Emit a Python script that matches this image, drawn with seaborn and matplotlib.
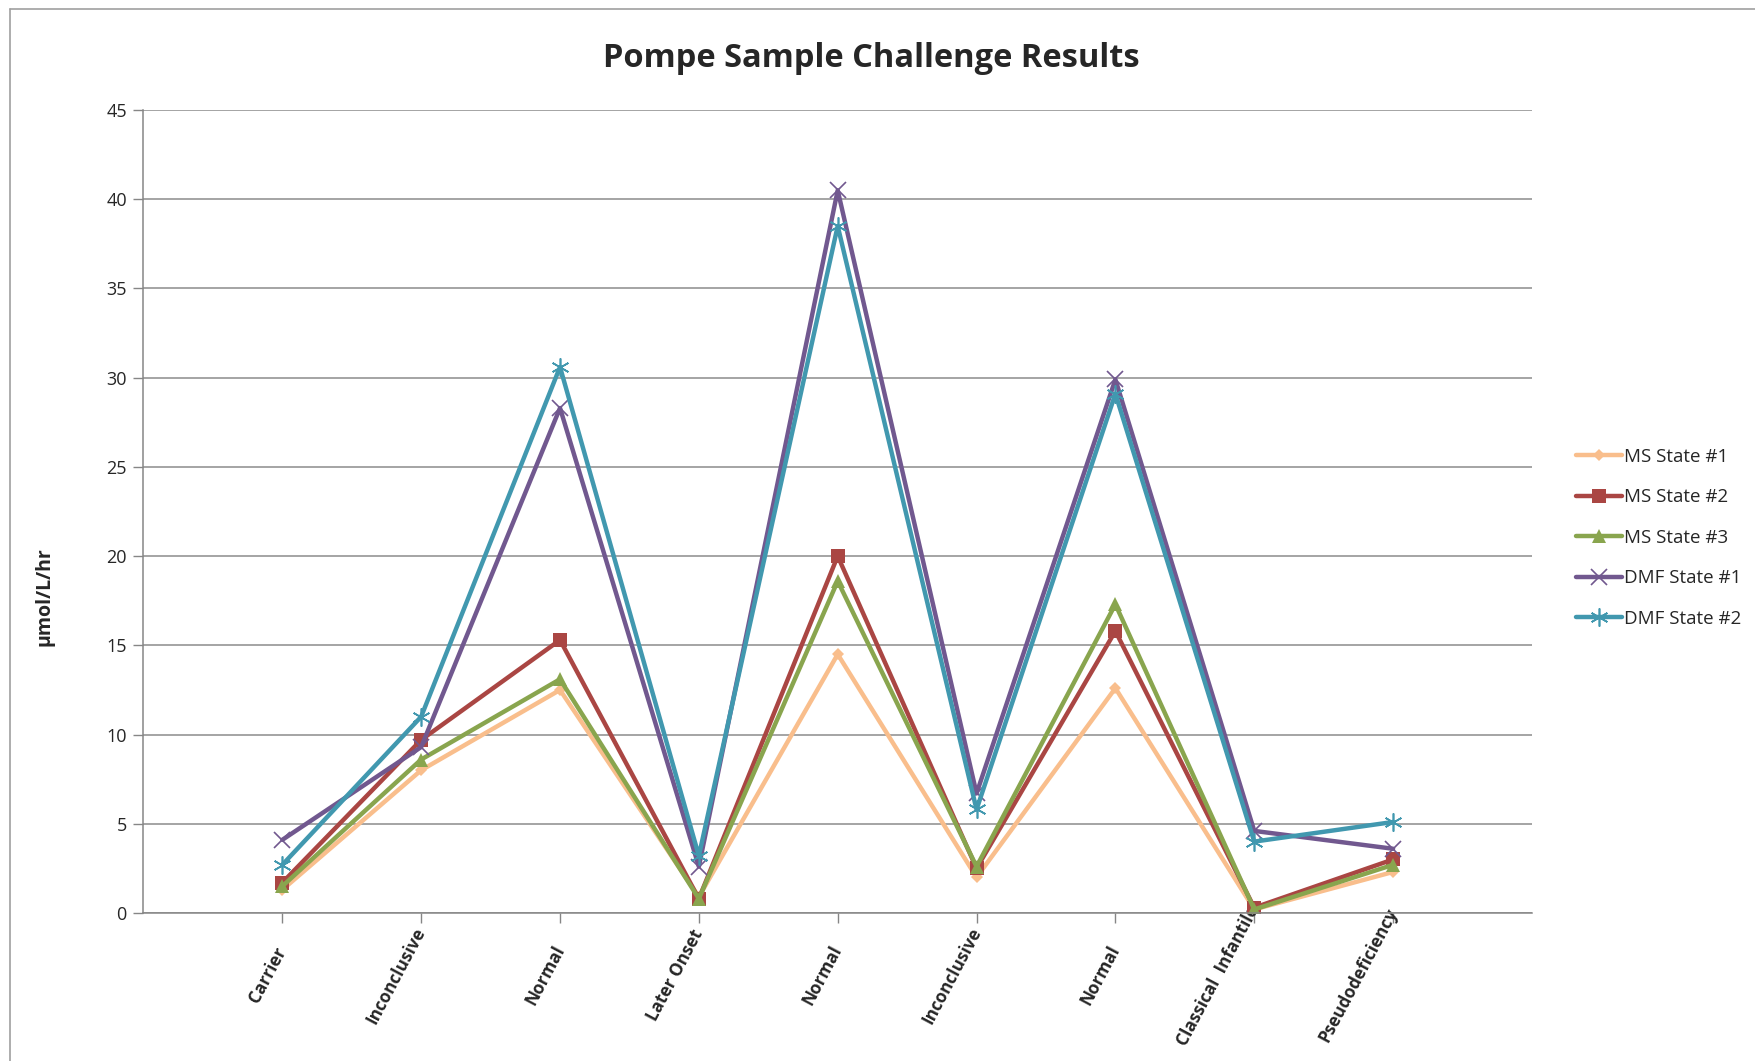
import numpy as np
import pandas as pd
import seaborn as sns
import matplotlib.pyplot as plt
from matplotlib.lines import Line2D
from matplotlib.transforms import ScaledTranslation

# Category labels along the x axis (in sample order)
categories = ["Carrier", "Inconclusive", "Normal", "Later Onset", "Normal",
              "Inconclusive", "Normal", "Classical  Infantile", "Pseudodeficiency"]

# Series values (µmol/L/hr)
ms_state_1 = [1.3, 8.0, 12.5, 0.9, 14.5, 2.0, 12.6, 0.2, 2.3]
ms_state_2 = [1.7, 9.7, 15.3, 0.8, 20.0, 2.5, 15.8, 0.3, 3.0]
ms_state_3 = [1.5, 8.6, 13.1, 0.8, 18.6, 2.6, 17.3, 0.2, 2.7]
dmf_state_1 = [4.1, 9.3, 28.3, 2.6, 40.5, 6.7, 29.9, 4.6, 3.6]
dmf_state_2 = [2.7, 11.0, 30.6, 3.2, 38.5, 5.8, 29.1, 4.0, 5.1]

series_names = ["MS State #1", "MS State #2", "MS State #3", "DMF State #1", "DMF State #2"]
series_values = [ms_state_1, ms_state_2, ms_state_3, dmf_state_1, dmf_state_2]

colors = ["#F9BE8C", "#AA4643", "#89A54E", "#71588F", "#4198AF"]
markers = ["D", "s", "^", "x", (6, 2, 0)]
marker_sizes = [6, 10, 10, 12, 13]

# long-format table for seaborn
pos = np.arange(len(categories))
df = pd.DataFrame({
    "pos": np.tile(pos, len(series_names)),
    "value": np.concatenate(series_values),
    "series": np.repeat(series_names, len(categories)),
})

sns.set_theme(style="white")
plt.rcParams["font.family"] = ["Open Sans", "DejaVu Sans"]

fig = plt.figure(figsize=(17.56, 10.61), dpi=100)
ax = fig.add_axes([0.0817, 0.1395, 0.7907, 0.7568])

handles = []
for name, col, mk, ms in zip(series_names, colors, markers, marker_sizes):
    sub = df[df["series"] == name]
    thin = mk in ("x",) or isinstance(mk, tuple)
    sns.lineplot(data=sub, x="pos", y="value", ax=ax, color=col, linewidth=3.2,
                 marker=mk, markersize=ms, markeredgewidth=1.2 if thin else 0,
                 markeredgecolor=col, markerfacecolor=col, legend=False)
    handles.append(Line2D([], [], color=col, linewidth=3.2, marker=mk,
                          markersize=ms, markeredgewidth=1.2 if thin else 0,
                          markeredgecolor=col, markerfacecolor=col, label=name))

ax.set_xlim(-1, len(categories))
ax.set_ylim(0, 45)
ax.set_yticks(np.arange(0, 46, 5))
ax.set_xticks(pos)
# Excel-style rotated labels: right edge at the tick, box centred at a fixed depth
ax.set_xticklabels(categories, rotation=62, ha="right", va="center",
                   rotation_mode="default", fontsize=12.3, fontweight="bold")
ax.tick_params(axis="y", labelsize=13, length=7, width=1, color="#868686", direction="out", left=True, pad=5)
ax.tick_params(axis="x", length=7, width=1, color="#868686", direction="out", bottom=True, pad=38)
shift = ScaledTranslation(8 / 100, 0, fig.dpi_scale_trans)
for lab in ax.get_xticklabels():
    lab.set_transform(lab.get_transform() + shift)
ax.yaxis.grid(True, color="#8c8c8c", linewidth=1.1)
ax.set_axisbelow(True)
for s in ["top", "right"]:
    ax.spines[s].set_visible(False)
for s in ["left", "bottom"]:
    ax.spines[s].set_color("#868686")
    ax.spines[s].set_linewidth(1.1)
ax.set_xlabel("")
ax.set_ylabel("")

fig.text(0.0256, 0.438, "µmol/L/hr", rotation=90, ha="center", va="center",
         fontsize=14, fontweight="bold")
fig.text(0.496, 0.945, "Pompe Sample Challenge Results", ha="center", va="center",
         fontsize=23.5, fontweight="bold")

fig.legend(handles=handles, loc="upper left", bbox_to_anchor=(0.893, 0.585),
           frameon=False, fontsize=13.5, handlelength=2.5, handletextpad=0.1,
           labelspacing=1.2, borderaxespad=0)

# chart area border
fig.add_artist(Line2D([0.0057, 0.0057], [0.0, 0.9915], transform=fig.transFigure,
                      color="#a0a0a0", linewidth=1.2))
fig.add_artist(Line2D([0.0057, 1.0], [0.9915, 0.9915], transform=fig.transFigure,
                      color="#a0a0a0", linewidth=1.2))

fig.savefig("out.png", dpi=100)
